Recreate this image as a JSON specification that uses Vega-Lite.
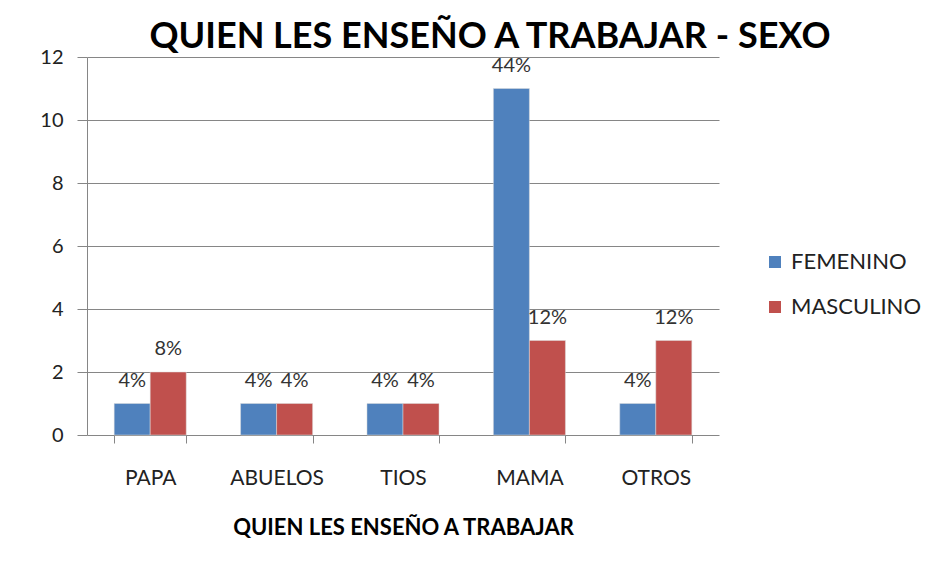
{
  "$schema": "https://vega.github.io/schema/vega-lite/v6.json",
  "width": 632,
  "height": 378,
  "autosize": "none",
  "padding": {"left": 87, "top": 57, "right": 211, "bottom": 127},
  "background": "white",
  "title": {
    "text": "QUIEN LES ENSEÑO A TRABAJAR - SEXO",
    "font": "Lato",
    "fontSize": 36,
    "fontWeight": "bold",
    "color": "black",
    "anchor": "middle",
    "dx": 87,
    "offset": -9
  },
  "data": {
    "values": [
      {"categoria": "PAPA", "sexo": "FEMENINO", "valor": 1, "etiqueta": "4%"},
      {"categoria": "PAPA", "sexo": "MASCULINO", "valor": 2, "etiqueta": "8%"},
      {"categoria": "ABUELOS", "sexo": "FEMENINO", "valor": 1, "etiqueta": "4%"},
      {"categoria": "ABUELOS", "sexo": "MASCULINO", "valor": 1, "etiqueta": "4%"},
      {"categoria": "TIOS", "sexo": "FEMENINO", "valor": 1, "etiqueta": "4%"},
      {"categoria": "TIOS", "sexo": "MASCULINO", "valor": 1, "etiqueta": "4%"},
      {"categoria": "MAMA", "sexo": "FEMENINO", "valor": 11, "etiqueta": "44%"},
      {"categoria": "MAMA", "sexo": "MASCULINO", "valor": 3, "etiqueta": "12%"},
      {"categoria": "OTROS", "sexo": "FEMENINO", "valor": 1, "etiqueta": "4%"},
      {"categoria": "OTROS", "sexo": "MASCULINO", "valor": 3, "etiqueta": "12%"}
    ]
  },
  "encoding": {
    "x": {
      "field": "categoria",
      "type": "nominal",
      "sort": ["PAPA", "ABUELOS", "TIOS", "MAMA", "OTROS"],
      "scale": {"paddingInner": 0.43, "paddingOuter": 0.215},
      "axis": {
        "title": "QUIEN LES ENSEÑO A TRABAJAR",
        "titleFont": "Lato",
        "titleFontSize": 22,
        "titleFontWeight": "bold",
        "titleColor": "black",
        "titlePadding": 29,
        "labelFont": "Lato",
        "labelFontSize": 21,
        "labelColor": "#222222",
        "labelAngle": 0,
        "labelPadding": 24,
        "tickBand": "extent",
        "tickSize": 8,
        "tickColor": "#868686",
        "domain": false,
        "grid": false
      }
    },
    "xOffset": {
      "field": "sexo",
      "type": "nominal",
      "sort": ["FEMENINO", "MASCULINO"],
      "scale": {"paddingInner": 0, "paddingOuter": 0}
    },
    "y": {
      "field": "valor",
      "type": "quantitative",
      "scale": {"domain": [0, 12], "nice": false},
      "axis": {
        "title": null,
        "values": [0, 2, 4, 6, 8, 10, 12],
        "labelFont": "Lato",
        "labelFontSize": 20,
        "labelColor": "#222222",
        "labelPadding": 14,
        "tickSize": 10,
        "tickColor": "#868686",
        "domainColor": "#868686",
        "gridColor": "#868686",
        "gridWidth": 1
      }
    }
  },
  "layer": [
    {
      "mark": {"type": "bar", "stroke": "#dcdcdc", "strokeWidth": 0.5},
      "encoding": {
        "color": {
          "field": "sexo",
          "type": "nominal",
          "sort": ["FEMENINO", "MASCULINO"],
          "scale": {"domain": ["FEMENINO", "MASCULINO"], "range": ["#4F81BD", "#C0504D"]},
          "legend": {
            "title": null,
            "orient": "none",
            "legendX": 677,
            "legendY": 194,
            "symbolType": "square",
            "symbolSize": 144,
            "symbolStrokeWidth": 0,
            "labelFont": "Lato",
            "labelFontSize": 22,
            "labelColor": "#222222",
            "labelOffset": 5,
            "rowPadding": 23
          }
        }
      }
    },
    {
      "mark": {"type": "text", "font": "Lato", "fontSize": 20, "color": "#333333", "baseline": "middle", "dy": -23},
      "encoding": {
        "text": {"field": "etiqueta"}
      }
    }
  ],
  "config": {
    "view": {"stroke": null}
  }
}
